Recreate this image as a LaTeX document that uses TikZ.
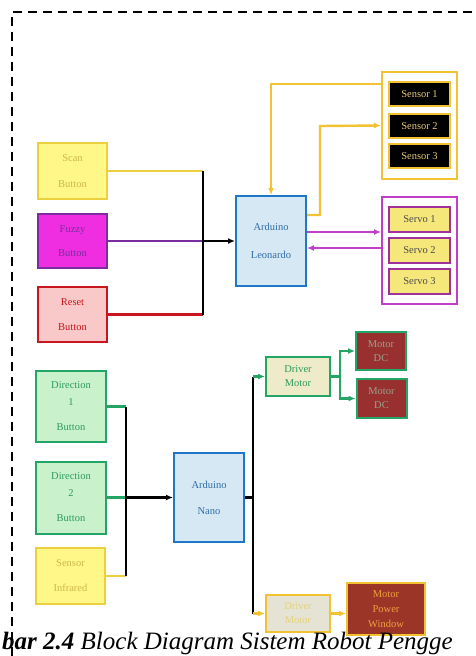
\documentclass[tikz,border=0pt]{standalone}
\usepackage{fontspec}
\setmainfont{Liberation Serif}
\usetikzlibrary{arrows.meta}

\definecolor{scanfill}{HTML}{FFF787}
\definecolor{scanline}{HTML}{EBCF3C}
\definecolor{scantext}{HTML}{CDB84D}
\definecolor{fuzzyfill}{HTML}{EE2EE0}
\definecolor{fuzzyline}{HTML}{7B2C9E}
\definecolor{resetfill}{HTML}{F9C9C9}
\definecolor{resetline}{HTML}{C8151E}
\definecolor{leofill}{HTML}{D5E8F4}
\definecolor{leoline}{HTML}{1F77C9}
\definecolor{leotext}{HTML}{2F6DA8}
\definecolor{gold}{HTML}{F2C232}
\definecolor{senstext}{HTML}{E8C87A}
\definecolor{servoline}{HTML}{C23DC8}
\definecolor{servofill}{HTML}{F5E77A}
\definecolor{servobox}{HTML}{A0309A}
\definecolor{grnline}{HTML}{22A565}
\definecolor{dirfill}{HTML}{C9F2CC}
\definecolor{dirtext}{HTML}{2E9A5A}
\definecolor{drvfill}{HTML}{EDEBC8}
\definecolor{dcfill}{HTML}{98302F}
\definecolor{dctext}{HTML}{9AA08A}
\definecolor{palefill}{HTML}{E5E3D3}
\definecolor{paletext}{HTML}{E6D27A}
\definecolor{mpwfill}{HTML}{9A3528}
\definecolor{mpwtext}{HTML}{F0A040}

\tikzset{
  blk/.style={draw, line width=2pt, inner sep=0pt, align=center,
    font=\fontsize{10.5}{13}\selectfont},
  ylwbox/.style={blk, fill=scanfill, draw=scanline, text=scantext,
    minimum width=69pt, minimum height=56pt},
  grnbox/.style={blk, fill=dirfill, draw=grnline, text=dirtext,
    minimum width=70pt, minimum height=71pt},
  ardbox/.style={blk, fill=leofill, draw=leoline, text=leotext,
    minimum width=70pt, minimum height=90pt},
  sensbox/.style={blk, fill=black, draw=gold, text=senstext,
    minimum width=61pt, minimum height=24pt},
  servbox/.style={blk, fill=servofill, draw=servobox, text=black!70,
    minimum width=61pt, minimum height=25pt},
  grpbox/.style={draw, line width=2pt, fill=white,
    minimum width=75pt, minimum height=107pt},
  dcbox/.style={blk, fill=dcfill, draw=grnline, text=dctext,
    minimum width=50pt, minimum height=38pt},
  ln/.style={line width=2.4pt},
}

\begin{document}
\begin{tikzpicture}[x=1pt,y=-1pt,>={Latex[length=7pt,width=6pt]}]
\useasboundingbox (0,0) rectangle (476,656);
\draw[line width=1.8pt,dashed,dash pattern=on 9pt off 6pt] (12,656) -- (12,12) -- (476,12);

% Arduino Leonardo side
\node[ylwbox] (scan) at (72.5,171) {Scan\\[13pt]Button};
\node[blk, fill=fuzzyfill, draw=fuzzyline, text=fuzzyline,
  minimum width=69pt, minimum height=54pt] (fuzzy) at (72.5,241) {Fuzzy\\[11pt]Button};
\node[blk, fill=resetfill, draw=resetline, text=resetline,
  minimum width=69pt, minimum height=55pt] (reset) at (72.5,314.5) {Reset\\[12pt]Button};
\node[ardbox] (leo) at (271,241) {Arduino\\[15pt]Leonardo};

\node[grpbox, draw=gold] (sensgrp) at (419.5,125.5) {};
\node[sensbox] (s1) at (419.5,94) {Sensor 1};
\node[sensbox] (s2) at (419.5,126) {Sensor 2};
\node[sensbox] (s3) at (419.5,156) {Sensor 3};

\node[grpbox, draw=servoline] (servogrp) at (419.5,250.5) {};
\node[servbox] (sv1) at (419.5,219.5) {Servo 1};
\node[servbox] (sv2) at (419.5,250.5) {Servo 2};
\node[servbox] (sv3) at (419.5,281.5) {Servo 3};

\coordinate (jl) at (203,241);
\draw[ln, scanline] (scan.east) -- (jl |- scan.east);
\draw[ln, resetline] (reset.east) -- (jl |- reset.east);
\draw[ln, fuzzyline] (fuzzy.east) -- (jl);
\draw[ln] (jl |- scan.east) -- (jl |- reset.east);
\draw[ln,->] (jl) -- (leo.west);

\draw[ln, gold,->] ([yshift=-13pt]sensgrp.north west) -| (leo.north);
\coordinate (kb) at (320,126);
\draw[ln, gold,->] ([yshift=26pt]leo.east) -| (kb) -- (sensgrp.west);
\draw[ln, servoline,->] ([yshift=9pt]leo.east) -- ([yshift=9pt]leo.east -| servogrp.west);
\draw[ln, servoline,->] ([yshift=-7pt]leo.east -| servogrp.west) -- ([yshift=-7pt]leo.east);

% Arduino Nano side
\node[grnbox] (dir1) at (71,406.5) {Direction\\[4pt]1\\[12pt]Button};
\node[grnbox, minimum height=72pt] (dir2) at (71,497.5) {Direction\\[4pt]2\\[12pt]Button};
\node[ylwbox] (infra) at (70.5,576) {Sensor\\[12pt]Infrared};
\node[ardbox, minimum height=89pt] (nano) at (209,497.5) {Arduino\\[13pt]Nano};

\node[blk, fill=drvfill, draw=grnline, text=dirtext,
  minimum width=64pt, minimum height=39pt] (drv) at (298,376.5) {Driver\\[1pt]Motor};
\node[dcbox] (mdc1) at (381,351) {Motor\\[1pt]DC};
\node[dcbox, minimum height=39pt] (mdc2) at (381.5,398.5) {Motor\\[1pt]DC};
\node[blk, fill=palefill, draw=gold, text=paletext,
  minimum width=64pt, minimum height=37pt] (drvpw) at (298,613.5) {Driver\\[1pt]Motor};
\node[blk, fill=mpwfill, draw=gold, text=mpwtext,
  minimum width=78pt, minimum height=52pt] (mpw) at (386,609) {Motor\\[2pt]Power\\[2pt]Window};

\coordinate (jn) at (126,497.5);
\draw[ln, grnline] (dir1.east) -- (jn |- dir1.east);
\draw[ln, grnline] (dir2.east) -- (jn);
\draw[ln, scanline] (infra.east) -- (jn |- infra.east);
\draw[ln] (jn |- dir1.east) -- (jn |- infra.east);
\draw[ln,->] (jn) -- (nano.west);

\coordinate (jr) at (253,497.5);
\draw[ln] (nano.east) -- (jr);
\draw[ln] (jr |- drv.west) -- (jr |- drvpw.west);
\draw[ln, grnline,->] (jr |- drv.west) -- (drv.west);
\draw[ln, gold,->] (jr |- drvpw.west) -- (drvpw.west);
\draw[ln, grnline,->] (drv.east) -- ++(9,0) |- (mdc1.west);
\draw[ln, grnline,->] (drv.east) -- ++(9,0) |- (mdc2.west);
\draw[ln, gold,->] (drvpw.east) -- (drvpw.east -| mpw.west);

\node[anchor=base west, inner sep=0pt, font=\fontsize{25}{28}\selectfont] (cap) at (2,649.5)
  {\textbf{\textit{bar 2.4}} \textit{Block Diagram Sistem Robot Pengge}};
\end{tikzpicture}
\end{document}
